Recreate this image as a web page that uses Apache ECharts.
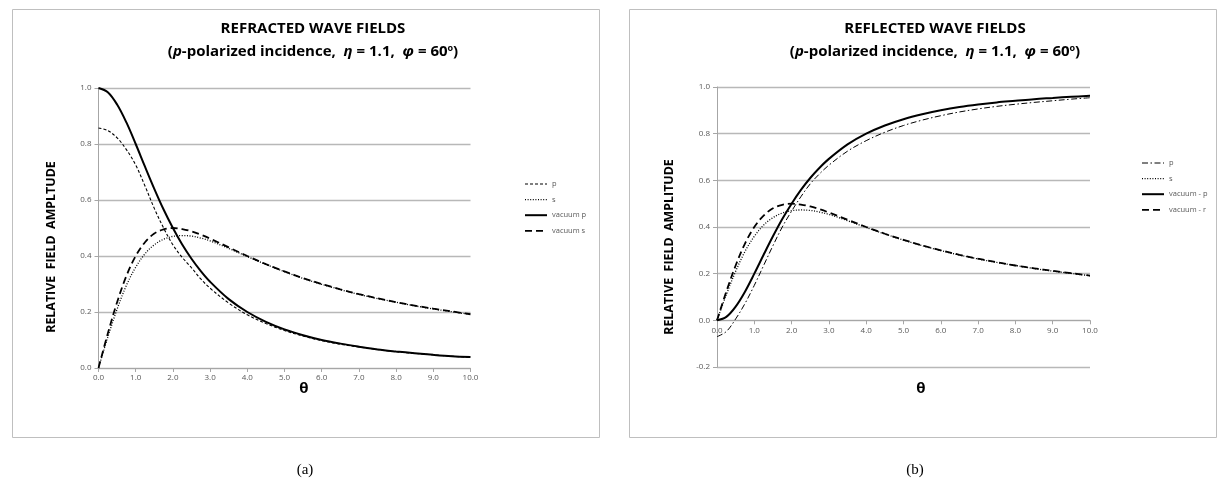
<!DOCTYPE html>
<html>
<head>
<meta charset="utf-8">
<script src="https://cdn.jsdelivr.net/npm/echarts@6/dist/echarts.min.js"></script>
<style>
html,body{margin:0;padding:0;background:#fff;}
#chart{width:1224px;height:489px;}
</style>
</head>
<body>
<div id="chart"></div>
<script>
// ---- data ----
const theta = [0, 0.25, 0.5, 0.75, 1.0, 1.25, 1.5, 1.75, 2.0, 2.25, 2.5, 2.75, 3.0,
  3.5, 4.0, 4.5, 5.0, 5.5, 6.0, 6.5, 7.0, 7.5, 8.0, 8.5, 9.0, 9.5, 10.0];

// (a) refracted wave fields
const refrP = [0.857, 0.848, 0.822, 0.780, 0.725, 0.650, 0.570, 0.500, 0.440, 0.395, 0.358, 0.318, 0.285,
  0.232, 0.190, 0.159, 0.134, 0.114, 0.098, 0.085, 0.075, 0.066, 0.058, 0.052, 0.047, 0.042, 0.038];
const refrS = [0.000, 0.110, 0.210, 0.295, 0.360, 0.408, 0.440, 0.460, 0.470, 0.473, 0.471, 0.464, 0.454,
  0.427, 0.398, 0.370, 0.344, 0.320, 0.299, 0.280, 0.263, 0.248, 0.235, 0.222, 0.211, 0.201, 0.191];
const refrVacP = [1.000, 0.985, 0.941, 0.877, 0.800, 0.719, 0.640, 0.566, 0.500, 0.441, 0.390, 0.346, 0.308,
  0.246, 0.200, 0.165, 0.138, 0.117, 0.100, 0.087, 0.076, 0.066, 0.059, 0.053, 0.047, 0.042, 0.039];
const refrVacS = [0.000, 0.123, 0.235, 0.329, 0.400, 0.449, 0.480, 0.495, 0.500, 0.496, 0.488, 0.476, 0.462,
  0.431, 0.400, 0.371, 0.345, 0.321, 0.300, 0.281, 0.264, 0.249, 0.235, 0.223, 0.212, 0.202, 0.192];

// (b) reflected wave fields
const reflP = [-0.070, -0.048, 0.006, 0.072, 0.150, 0.235, 0.320, 0.400, 0.468, 0.530, 0.585, 0.628, 0.665,
  0.725, 0.770, 0.806, 0.835, 0.858, 0.877, 0.893, 0.906, 0.917, 0.926, 0.934, 0.941, 0.948, 0.954];
const reflS = [0.000, 0.110, 0.210, 0.295, 0.360, 0.408, 0.440, 0.460, 0.470, 0.473, 0.471, 0.464, 0.454,
  0.427, 0.398, 0.370, 0.344, 0.320, 0.299, 0.280, 0.263, 0.248, 0.235, 0.222, 0.211, 0.201, 0.191];
const reflVacP = [0.000, 0.015, 0.059, 0.123, 0.200, 0.281, 0.360, 0.434, 0.500, 0.559, 0.610, 0.654, 0.692,
  0.754, 0.800, 0.835, 0.862, 0.883, 0.900, 0.914, 0.925, 0.934, 0.941, 0.948, 0.953, 0.958, 0.962];
const reflVacR = [0.000, 0.123, 0.235, 0.329, 0.400, 0.449, 0.480, 0.495, 0.500, 0.496, 0.488, 0.476, 0.462,
  0.431, 0.400, 0.371, 0.345, 0.321, 0.300, 0.281, 0.264, 0.249, 0.235, 0.223, 0.212, 0.202, 0.192];

const namesA = ['p', 's', 'vacuum p', 'vacuum s'];
const namesB = ['p', 's', 'vacuum - p', 'vacuum - r'];
const titleA = 'REFRACTED WAVE FIELDS';
const titleB = 'REFLECTED WAVE FIELDS';
const yNameA = 'RELATIVE  FIELD  AMPLTUDE';
const yNameB = 'RELATIVE  FIELD  AMPLITUDE';
const xName = 'θ';

// ---- styling ----
const FONT = '"Open Sans", "Liberation Sans", sans-serif';
const styleShortDash = {color: '#000', width: 1.1, type: [3, 2]};
const styleDot = {color: '#000', width: 1.3, type: [1, 1.6]};
const styleSolid = {color: '#000', width: 2};
const styleLongDash = {color: '#000', width: 1.8, type: [7, 4]};
const styleDashDot = {color: '#000', width: 1.0, type: [6, 2.5, 1.5, 2.5]};

function pairs(vals) { return theta.map((t, i) => [t, vals[i]]); }

function mkSeries(name, vals, ls, idx) {
  return {
    name: name, type: 'line', xAxisIndex: idx, yAxisIndex: idx,
    data: pairs(vals), showSymbol: false, symbol: 'none', smooth: 0.35,
    lineStyle: ls, itemStyle: {color: '#000'}, z: 3, silent: true
  };
}

const axisCommonX = (idx, offset) => ({
  type: 'value', gridIndex: idx, min: 0, max: 10, interval: 1, position: 'bottom', offset: offset,
  axisLine: {onZero: false, lineStyle: {color: '#a6a6a6', width: 1}},
  axisTick: {show: true, length: 4, lineStyle: {color: '#a6a6a6'}},
  axisLabel: {formatter: v => v.toFixed(1), fontSize: 8, color: '#595959', margin: 6, fontFamily: FONT},
  splitLine: {show: false}
});
const axisCommonY = (idx, min) => ({
  type: 'value', gridIndex: idx, min: min, max: 1, interval: 0.2,
  axisLine: {show: true, lineStyle: {color: '#a6a6a6', width: 1}},
  axisTick: {show: true, length: 4, lineStyle: {color: '#a6a6a6'}},
  axisLabel: {formatter: v => v.toFixed(1), fontSize: 8, color: '#595959', margin: 7, fontFamily: FONT},
  splitLine: {show: true, lineStyle: {color: '#b8b8b8', width: 1.3}}
});

function legendItems(names, styles) {
  return names.map((n, i) => ({name: n, lineStyle: styles[i], itemStyle: {opacity: 0, borderWidth: 0}}));
}

function titleGraphics(cx, title, yName, yNameX, thetaX) {
  return [
    {type: 'text', x: cx, y: 29, style: {text: title, fontSize: 15, fontWeight: 'bold', fontFamily: FONT,
      fill: '#000', align: 'center', verticalAlign: 'middle'}},
    {type: 'text', x: cx, y: 52, style: {
      text: '(' + '{i|p}' + '-polarized incidence,  ' + '{i|η}' + ' = 1.1,  ' + '{i|φ}' + ' = 60' + '{sup|o}' + ')',
      fontSize: 15, fontWeight: 'bold', fontFamily: FONT, fill: '#000', align: 'center', verticalAlign: 'middle',
      rich: {
        i: {fontStyle: 'italic', fontWeight: 'bold', fontSize: 15, fontFamily: FONT, fill: '#000'},
        sup: {fontSize: 9, fontWeight: 'bold', fontFamily: FONT, fill: '#000', padding: [0, 0, 8, 0]}
      }}},
    {type: 'text', x: yNameX, y: 247, rotation: Math.PI / 2, style: {text: yName, fontSize: 12.4, fontWeight: 'bold',
      fontFamily: FONT, fill: '#000', align: 'center', verticalAlign: 'middle'}},
    {type: 'text', x: thetaX, y: 389, style: {text: xName, fontSize: 15, fontWeight: 'bold', fontFamily: FONT,
      fill: '#000', align: 'center', verticalAlign: 'middle'}}
  ];
}

const chart = echarts.init(document.getElementById('chart'), null, {renderer: 'canvas'});
const option = {
  backgroundColor: '#fff',
  animation: false,
  grid: [
    {left: 98.5, top: 88, width: 372, height: 280},
    {left: 717, top: 87, width: 373, height: 280}
  ],
  xAxis: [axisCommonX(0, 0), axisCommonX(1, -46.67)],
  yAxis: [axisCommonY(0, 0), axisCommonY(1, -0.2)],
  legend: [
    {orient: 'vertical', left: 519, top: 175, itemWidth: 22, itemHeight: 8, itemGap: 7.6,
      textStyle: {fontSize: 7.5, color: '#595959', fontFamily: FONT}, selectedMode: false,
      itemStyle: {opacity: 0},
      data: legendItems(namesA, [styleShortDash, styleDot, styleSolid, styleLongDash])},
    {orient: 'vertical', left: 1136, top: 154, itemWidth: 22, itemHeight: 8, itemGap: 7.6,
      textStyle: {fontSize: 7.5, color: '#595959', fontFamily: FONT}, selectedMode: false,
      itemStyle: {opacity: 0},
      data: legendItems(namesB, [styleDashDot, styleDot, styleSolid, styleLongDash])}
  ],
  graphic: [
    {type: 'rect', shape: {x: 12.5, y: 9.5, width: 587, height: 428}, style: {fill: 'none', stroke: '#bfbfbf', lineWidth: 1}, z: -1},
    {type: 'rect', shape: {x: 629.5, y: 9.5, width: 587, height: 428}, style: {fill: 'none', stroke: '#bfbfbf', lineWidth: 1}, z: -1},
    ...titleGraphics(313, titleA, yNameA, 51, 304),
    ...titleGraphics(935, titleB, yNameB, 669, 921),
    {type: 'text', x: 305, y: 470, style: {text: '(a)', fontSize: 15, fontFamily: '"Liberation Serif", "DejaVu Serif", serif',
      fill: '#000', align: 'center', verticalAlign: 'middle'}},
    {type: 'text', x: 915, y: 470, style: {text: '(b)', fontSize: 15, fontFamily: '"Liberation Serif", "DejaVu Serif", serif',
      fill: '#000', align: 'center', verticalAlign: 'middle'}}
  ],
  series: [
    mkSeries(namesA[0], refrP, styleShortDash, 0),
    mkSeries(namesA[1], refrS, styleDot, 0),
    mkSeries(namesA[2], refrVacP, styleSolid, 0),
    mkSeries(namesA[3], refrVacS, styleLongDash, 0),
    mkSeries(namesB[0], reflP, styleDashDot, 1),
    mkSeries(namesB[1], reflS, styleDot, 1),
    mkSeries(namesB[2], reflVacP, styleSolid, 1),
    mkSeries(namesB[3], reflVacR, styleLongDash, 1)
  ]
};
chart.setOption(option);
</script>
</body>
</html>
